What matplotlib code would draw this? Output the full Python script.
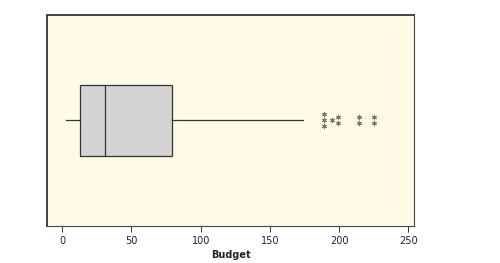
import matplotlib.pyplot as plt

# box summary
whisker_low = 2.7
q1 = 12.8
median = 31
q3 = 79.3
whisker_high = 174

# outliers (value, how many stacked at that value)
outlier_values = [189, 195, 199, 214, 225]
outlier_counts = [3, 1, 2, 2, 2]

fig = plt.figure(figsize=(5, 2.63), dpi=100)
ax = fig.add_axes([0.094, 0.141, 0.734, 0.802])
ax.set_facecolor('#fffbe6')

stats = [{'whislo': whisker_low, 'q1': q1, 'med': median, 'q3': q3,
          'whishi': whisker_high, 'fliers': []}]
ax.bxp(stats, positions=[1], widths=0.68, vert=False, patch_artist=True,
       showcaps=False,
       boxprops=dict(facecolor='#d4d4d4', edgecolor='#333333', linewidth=0.9),
       medianprops=dict(color='#333333', linewidth=0.9),
       whiskerprops=dict(color='#333333', linewidth=0.9))

# stack tied outliers vertically
step = 0.057
for val, n in zip(outlier_values, outlier_counts):
    ys = [1 + (i - (n - 1) / 2) * step for i in range(n)]
    ax.scatter([val] * n, ys, marker=(6, 2, 0), s=11, color='#7f7468',
               linewidths=0.7, zorder=3)

ax.set_xlim(-11, 254)
ax.set_ylim(0, 2)
ax.set_xticks([0, 50, 100, 150, 200, 250])
ax.set_yticks([])
ax.tick_params(axis='x', labelsize=7, length=4, width=0.7, color='#333333',
               pad=3, labelcolor='#222222')
ax.set_xlabel('Budget', fontsize=7, fontweight='bold', labelpad=3, color='#222222')
for side in ['left', 'top']:
    ax.spines[side].set_linewidth(1.4)
    ax.spines[side].set_color('#444444')
for side in ['right', 'bottom']:
    ax.spines[side].set_linewidth(0.8)
    ax.spines[side].set_color('#444444')

fig.savefig('out.png', dpi=100)
